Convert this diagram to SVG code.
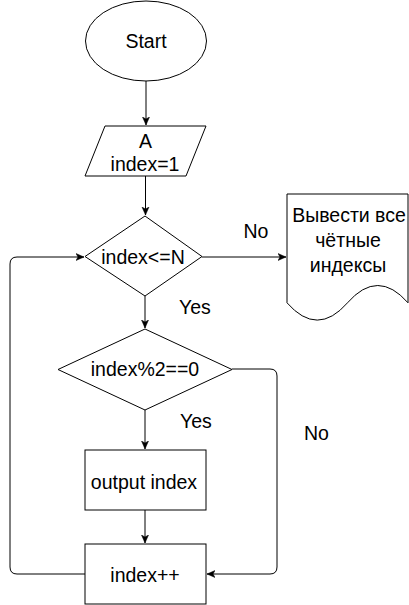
<svg xmlns="http://www.w3.org/2000/svg" width="409" height="605" viewBox="0 0 409 605">
<style>
.s{fill:#fff;stroke:#000;stroke-width:1}
.c{fill:none;stroke:#000;stroke-width:1}
text{font-family:"Liberation Sans",Arial,sans-serif;font-size:19.5px;fill:#000}
.m{text-anchor:middle}
</style>
<defs>
<marker id="a" markerWidth="10" markerHeight="10" refX="8" refY="4" orient="auto" markerUnits="userSpaceOnUse">
<path d="M0,0.5 L8,4 L0,7.5 L2,4 Z" fill="#000" stroke="#000" stroke-width="0.5"/>
</marker>
</defs>
<rect width="409" height="605" fill="#fff"/>
<g id="connectors">
<path class="c" d="M146,81 V125" marker-end="url(#a)"/>
<path class="c" d="M145.5,176 V215" marker-end="url(#a)"/>
<path class="c" d="M145,296 V328" marker-end="url(#a)"/>
<path class="c" d="M145,410 V449" marker-end="url(#a)"/>
<path class="c" d="M145,510 V543" marker-end="url(#a)"/>
<path class="c" d="M202,257 H286" marker-end="url(#a)"/>
<path class="c" d="M85,574 H17 Q10,574 10,567 V264 Q10,257 17,257 H84" marker-end="url(#a)"/>
<path class="c" d="M232,369 H270 Q277,369 277,376 V567 Q277,574 270,574 H207" marker-end="url(#a)"/>
<text x="243.5" y="238">No</text>
<text x="179" y="314">Yes</text>
<text x="180" y="428">Yes</text>
<text x="304" y="440">No</text>
</g>
<g id="start">
<ellipse class="s" cx="146" cy="41" rx="60.5" ry="40"/>
<text class="m" x="146" y="48">Start</text>
</g>
<g id="input">
<path class="s" d="M105,126 H206 L186,176 H85 Z"/>
<text class="m" x="145.5" y="148">A</text>
<text class="m" x="145" y="171">index=1</text>
</g>
<g id="cond1">
<path class="s" d="M145,216 L202,256.5 L145,296 L85,256.5 Z"/>
<text class="m" x="143" y="264">index&lt;=N</text>
</g>
<g id="doc">
<path class="s" d="M287,194 H408 V302.8 Q377.75,268.2 347.5,302.8 Q317.25,337.4 287,302.8 Z"/>
<text class="m" x="349" y="222">Вывести все</text>
<text class="m" x="348" y="247">чётные</text>
<text class="m" x="348" y="272">индексы</text>
</g>
<g id="cond2">
<path class="s" d="M145,329 L232,369.5 L145,410 L58,369.5 Z"/>
<text class="m" x="145" y="376">index%2==0</text>
</g>
<g id="output">
<rect class="s" x="85" y="450" width="121" height="60"/>
<text class="m" x="144" y="489">output index</text>
</g>
<g id="inc">
<rect class="s" x="85" y="544" width="121" height="60"/>
<text class="m" x="145" y="582">index++</text>
</g>
</svg>
